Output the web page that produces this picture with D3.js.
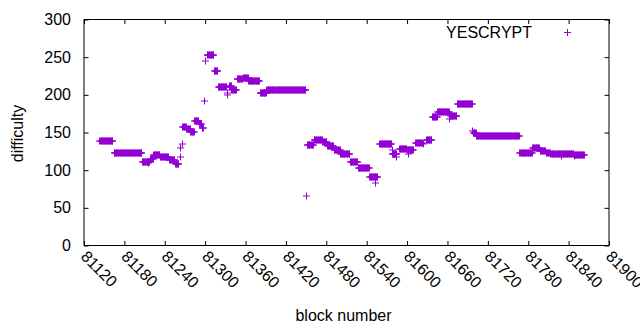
<!DOCTYPE html>
<html>
<head>
<meta charset="utf-8">
<script src="https://cdnjs.cloudflare.com/ajax/libs/d3/7.8.5/d3.min.js"></script>
<style>
  body { margin: 0; background: #fff; }
  text { font-family: "Liberation Sans", Arial, sans-serif; font-size: 16px; fill: #000; }
</style>
</head>
<body>
<script>
// difficulty held constant over runs of blocks: [start, end] -> value
var runStart = [81143,81164,81206,81218,81223,81233,81246,81255,81266,81272,81278,81284,81291,81295,81302,81313,81319,81336,81339,81347,81356,81364,81381,81391,81451,81461,81474,81481,81491,81501,81515,81527,81544,81559,81577,81588,81600,81612,81628,81637,81645,81664,81674,81698,81703,81767,81786,81797,81806,81813,81828,81848];
var runEnd = [81162,81205,81217,81222,81232,81245,81254,81260,81271,81277,81283,81290,81294,81297,81312,81318,81331,81338,81346,81355,81363,81380,81390,81449,81460,81473,81480,81490,81500,81514,81526,81543,81556,81576,81584,81599,81609,81622,81636,81644,81662,81673,81696,81702,81766,81785,81796,81805,81812,81827,81847,81863];
var runValue = [140,124,112,115,121,118,114,109,158,155,151,166,162,157,253,232,211,213,207,222,223,219,203,207,134,141,138,133,128,122,111,103,91,136,122,129,127,137,141,171,178,173,189,150,146,123,130,126,124,122,122,121];

// odd single blocks
var singleBlock = [81215,81262,81263,81265,81299,81300,81332,81333,81337,81450,81552,81577,81584,81602,81624,81663,81697,81829,81848];
var singleValue = [110,118,130,136,192,245,200,203,212,67,84,127,118,122,136,169,153,120,120];

var xTicks = [81120,81180,81240,81300,81360,81420,81480,81540,81600,81660,81720,81780,81840,81900];
var yTicks = [0,50,100,150,200,250,300];

var dataset = [];
runStart.forEach(function(s, i) {
  for (var b = s; b <= runEnd[i]; b++) dataset.push([b, runValue[i]]);
});
singleBlock.forEach(function(b, i) { dataset.push([b, singleValue[i]]); });

var W = 640, H = 330;
var margin = {top: 19.5, right: 31, bottom: 84.5, left: 84};
var width = W - margin.left - margin.right,
    height = H - margin.top - margin.bottom;
var color = "#9400d3";
var tick = 4.5;

var xScale = d3.scaleLinear().domain([81120, 81900]).range([0, width]);
var yScale = d3.scaleLinear().domain([0, 300]).range([height, 0]);

var svg = d3.select("body").append("svg")
  .attr("width", W).attr("height", H)
  .append("g")
  .attr("transform", "translate(" + margin.left + "," + margin.top + ")");

var plus = "M-3.5,0H3.5M0,-3.5V3.5";

svg.selectAll("path.pt")
  .data(dataset)
  .enter()
  .append("path")
  .attr("class", "pt")
  .attr("d", plus)
  .attr("transform", d => "translate(" + (Math.round(xScale(d[0])) + 0.5) + "," + (Math.round(yScale(d[1])) + 0.5) + ")")
  .attr("stroke", color)
  .attr("stroke-width", 1)
  .attr("fill", "none");

// axes, gnuplot style: ticks inward on all four sides
var xAxis = d3.axisBottom(xScale).tickValues(xTicks).tickSize(-tick).tickFormat("");
var xTop = d3.axisTop(xScale).tickValues(xTicks).tickSize(-tick).tickFormat("");
var yAxis = d3.axisLeft(yScale).tickValues(yTicks).tickSize(-tick).tickPadding(13);
var yRight = d3.axisRight(yScale).tickValues(yTicks).tickSize(-tick).tickFormat("");

svg.append("g").attr("transform", "translate(0," + height + ")").call(xAxis);
svg.append("g").call(xTop);
var gy = svg.append("g").call(yAxis);
svg.append("g").attr("transform", "translate(" + width + ",0)").call(yRight);

svg.selectAll(".domain").remove();
svg.selectAll(".tick line").attr("stroke", "#000");
gy.selectAll("text").style("font-size", "16px").attr("fill", "#000")
  .style("font-family", "'Liberation Sans', Arial, sans-serif");

svg.append("rect")
  .attr("x", 0).attr("y", 0)
  .attr("width", width).attr("height", height)
  .attr("fill", "none").attr("stroke", "#000").attr("stroke-width", 1);

// rotated x tick labels
svg.selectAll("text.xlab")
  .data(xTicks)
  .enter()
  .append("text")
  .attr("class", "xlab")
  .attr("transform", d => "translate(" + (xScale(d) - 4) + "," + (height + 12) + ") rotate(45)")
  .attr("text-anchor", "start")
  .text(d => d);

svg.append("text")
  .attr("transform", "rotate(-90)")
  .attr("x", -133.5 + margin.top)
  .attr("y", 18 - margin.left + 5)
  .attr("text-anchor", "middle")
  .text("difficulty");

svg.append("text")
  .attr("x", 343.5 - margin.left)
  .attr("y", 321 - margin.top)
  .attr("text-anchor", "middle")
  .text("block number");

// legend
svg.append("text")
  .attr("x", 532 - margin.left)
  .attr("y", 38 - margin.top)
  .attr("text-anchor", "end")
  .text("YESCRYPT");

svg.append("path")
  .attr("d", plus)
  .attr("transform", "translate(" + (567.5 - margin.left) + "," + (32.5 - margin.top) + ")")
  .attr("stroke", color)
  .attr("fill", "none");
</script>
</body>
</html>
